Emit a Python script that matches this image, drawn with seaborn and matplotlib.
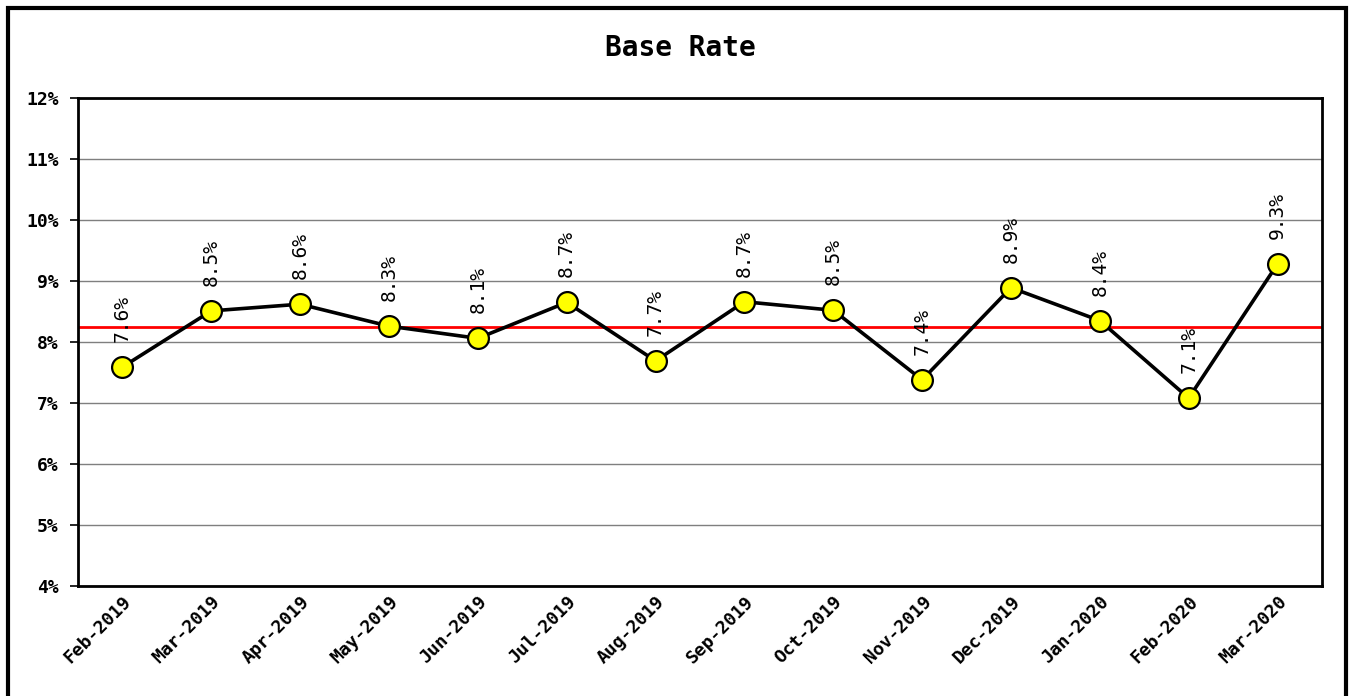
import numpy as np
import pandas as pd
import matplotlib
matplotlib.use("Agg")
import matplotlib.pyplot as plt
import seaborn as sns
from matplotlib.patches import Rectangle

months = ["Feb-2019", "Mar-2019", "Apr-2019", "May-2019", "Jun-2019", "Jul-2019",
          "Aug-2019", "Sep-2019", "Oct-2019", "Nov-2019", "Dec-2019", "Jan-2020",
          "Feb-2020", "Mar-2020"]
rates = [7.59, 8.51, 8.62, 8.26, 8.06, 8.65, 7.69, 8.66, 8.52, 7.38, 8.89, 8.35, 7.08, 9.28]
rate_labels = ["7.6%", "8.5%", "8.6%", "8.3%", "8.1%", "8.7%", "7.7%", "8.7%", "8.5%",
               "7.4%", "8.9%", "8.4%", "7.1%", "9.3%"]
y_ticks = [4, 5, 6, 7, 8, 9, 10, 11, 12]

sns.set_style("white")
plt.rcParams['font.family'] = ['DejaVu Sans Mono', 'DejaVu Sans']
plt.rcParams['text.color'] = 'black'
plt.rcParams['xtick.color'] = 'black'
plt.rcParams['ytick.color'] = 'black'
plt.rcParams['axes.labelcolor'] = 'black'

df = pd.DataFrame({"pos": np.arange(len(months)), "rate": rates})
avg = float(np.mean(rates))

fig = plt.figure(figsize=(13.52, 6.96), dpi=100)
ax = fig.add_axes([78/1352, 1-586/696, (1322-78)/1352, (586-98)/696])

for t in y_ticks:
    ax.axhline(t, color="#7f7f7f", lw=1.0, zorder=1)
ax.axhline(avg, color="#ff0000", lw=2.0, zorder=2)

sns.lineplot(data=df, x="pos", y="rate", ax=ax, color="black", lw=2.6,
             marker="o", markersize=15, markerfacecolor="#ffff00",
             markeredgecolor="black", markeredgewidth=1.6, zorder=3)

for p, v, lab in zip(df["pos"], rates, rate_labels):
    ax.annotate(lab, (p, v), xytext=(0, 18), textcoords="offset points",
                rotation=90, ha="center", va="bottom", fontsize=14, color="black")

ax.set_xlim(-0.5, len(months) - 0.5)
ax.set_ylim(4, 12)
ax.set_yticks(y_ticks)
ax.set_yticklabels([f"{t}%" for t in y_ticks], fontsize=13, fontweight="bold")
ax.set_xticks(np.arange(-0.5, len(months), 1.0))
ax.set_xticklabels([])
ax.set_xticks(np.arange(len(months)), minor=True)
ax.set_xticklabels(months, minor=True, rotation=45, ha="right", rotation_mode="anchor",
                   fontsize=13, fontweight="bold")
ax.tick_params(axis="x", which="major", direction="inout", length=14, width=1.2, color="black")
ax.tick_params(axis="x", which="minor", length=0, pad=5)
ax.tick_params(axis="y", direction="out", length=6, width=1.2, color="black", pad=8, left=True)
ax.set_xlabel("")
ax.set_ylabel("")
for s in ax.spines.values():
    s.set_color("black")
    s.set_linewidth(2.0)
    s.set_visible(True)

fig.text(0.503, 1 - 48/696, "Base Rate", ha="center", va="center",
         fontsize=20, fontweight="bold")

fig.patches.append(Rectangle((8/1352, -0.02), (1346-8)/1352, 0.02 + 1 - 8/696,
                             transform=fig.transFigure, fill=False,
                             edgecolor="black", lw=3, zorder=10))

fig.savefig("out.png", dpi=100)
